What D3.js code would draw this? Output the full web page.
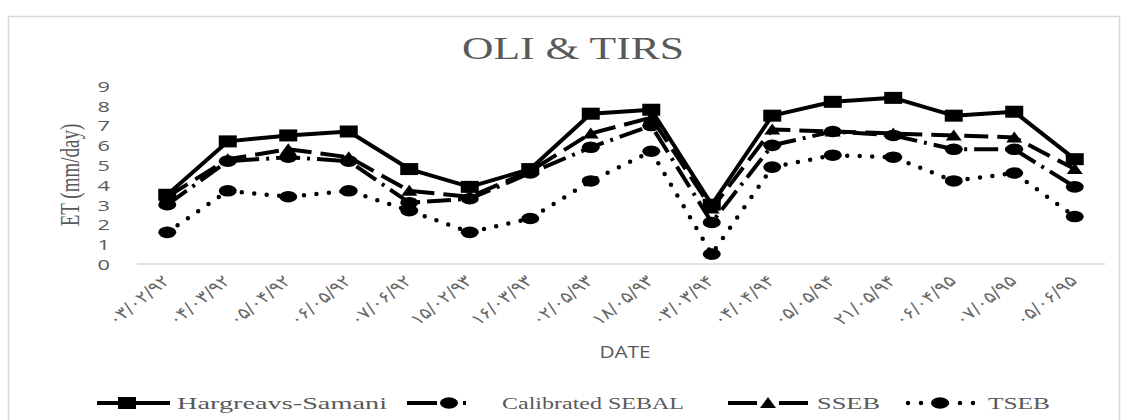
<!DOCTYPE html>
<html>
<head>
<meta charset="utf-8">
<script src="https://cdn.jsdelivr.net/npm/d3@7/dist/d3.min.js"></script>
<style>
  html, body { margin: 0; padding: 0; background: #fff; }
  svg { display: block; }
</style>
</head>
<body>
<svg id="chart" width="1128" height="420"></svg>
<script>
// Acquisition dates (Persian calendar) on the category axis
const categories = ["۰۳/۰۲/۹۲", "۰۴/۰۳/۹۲", "۰۵/۰۴/۹۲", "۰۶/۰۵/۹۲", "۰۷/۰۶/۹۲",
  "۱۵/۰۲/۹۳", "۱۶/۰۳/۹۳", "۰۲/۰۵/۹۳", "۱۸/۰۵/۹۳", "۰۳/۰۳/۹۴", "۰۴/۰۴/۹۴",
  "۰۵/۰۵/۹۴", "۲۱/۰۵/۹۴", "۰۶/۰۴/۹۵", "۰۷/۰۵/۹۵", "۰۵/۰۶/۹۵"];

// Daily ET (mm/day) for each method
const hargreaves = [3.5, 6.2, 6.5, 6.7, 4.8, 3.9, 4.8, 7.6, 7.8, 3.0, 7.5, 8.2, 8.4, 7.5, 7.7, 5.3];
const sebal      = [3.0, 5.2, 5.4, 5.2, 3.1, 3.3, 4.6, 5.9, 7.0, 2.1, 6.0, 6.7, 6.5, 5.8, 5.8, 3.9];
const sseb       = [3.4, 5.3, 5.8, 5.4, 3.7, 3.4, 4.7, 6.6, 7.4, 2.8, 6.8, 6.7, 6.6, 6.5, 6.4, 4.8];
const tseb       = [1.6, 3.7, 3.4, 3.7, 2.7, 1.6, 2.3, 4.2, 5.7, 0.5, 4.9, 5.5, 5.4, 4.2, 4.6, 2.4];

const seriesNames = ["Hargreavs-Samani", "Calibrated SEBAL", "SSEB", "TSEB"];
const yTicks = [0, 1, 2, 3, 4, 5, 6, 7, 8, 9];

const titleText = "OLI & TIRS";
const yTitle = "ET (mm/day)";
const xTitle = "DATE";

const svg = d3.select("#chart");
const grey = "#595959";
const serif = "'Liberation Serif', 'Times New Roman', serif";
const sans = "'Open Sans', 'Noto Sans', 'DejaVu Sans', sans-serif";
const sx = 1.45; // horizontal glyph widening used for the labels

// frame
svg.append("rect")
  .attr("x", 8.5).attr("y", 16.5)
  .attr("width", 1111).attr("height", 480)
  .attr("fill", "#fff").attr("stroke", "#d9d9d9").attr("stroke-width", 1.5);

const plot = { left: 137, right: 1105, top: 86, bottom: 264 };

const x = d3.scalePoint().domain(categories).range([plot.left, plot.right]).padding(0.5);
const y = d3.scaleLinear().domain([0, 9]).range([plot.bottom, plot.top]);

// title
svg.append("text")
  .attr("x", 462).attr("y", 59)
  .attr("font-family", serif).attr("font-size", 31).attr("fill", grey)
  .attr("textLength", 222).attr("lengthAdjust", "spacingAndGlyphs")
  .text(titleText);

// y axis (labels only)
const yAxis = d3.axisLeft(y).tickValues(yTicks).tickSize(0).tickPadding(0);
const gy = svg.append("g").attr("transform", "translate(110,0)").call(yAxis);
gy.select(".domain").remove();
gy.selectAll(".tick text")
  .attr("x", 0).attr("dy", "0.36em")
  .attr("font-family", sans).attr("font-size", 15).attr("fill", grey)
  .attr("transform", `scale(${sx},1)`);

// x axis line and rotated date labels
const xAxis = d3.axisBottom(x).tickSize(0).tickPadding(0);
const gx = svg.append("g").attr("transform", `translate(0,${plot.bottom})`).call(xAxis);
gx.select(".domain").attr("stroke", "#d9d9d9").attr("stroke-width", 1.5)
  .attr("d", `M${plot.left},0H${plot.right}`);
gx.selectAll(".tick text")
  .attr("x", 0).attr("y", 0).attr("dy", 0)
  .attr("text-anchor", "end")
  .attr("font-family", "'DejaVu Sans', sans-serif").attr("font-size", 16)
  .attr("letter-spacing", 0.8).attr("fill", "#666")
  .attr("transform", `translate(3,18) scale(1.25,1) rotate(-45)`);

// axis titles
svg.append("text")
  .attr("transform", `translate(79,175) scale(${sx},1) rotate(-90)`)
  .attr("text-anchor", "middle")
  .attr("font-family", serif).attr("font-size", 19).attr("fill", grey)
  .text(yTitle);

svg.append("text")
  .attr("transform", `translate(625,358) scale(1.3,1)`)
  .attr("text-anchor", "middle")
  .attr("font-family", sans).attr("font-size", 16).attr("fill", grey)
  .text(xTitle);

// marker shapes
function drawMarker(g, kind, cx, cy) {
  if (kind === "square") {
    g.append("rect").attr("x", cx - 9).attr("y", cy - 6).attr("width", 18).attr("height", 12).attr("fill", "#000");
  } else if (kind === "circle") {
    g.append("ellipse").attr("cx", cx).attr("cy", cy).attr("rx", 9).attr("ry", 5.8).attr("fill", "#000");
  } else if (kind === "triangle") {
    g.append("path").attr("d", `M${cx - 8},${cy + 5}L${cx},${cy - 6}L${cx + 8},${cy + 5}Z`).attr("fill", "#000");
  }
}

const series = [
  { name: seriesNames[0], values: hargreaves, dash: null,        cap: "butt",  width: 4,   marker: "square" },
  { name: seriesNames[1], values: sebal,      dash: "24 7 3 7",  cap: "butt",  width: 4,   marker: "circle" },
  { name: seriesNames[2], values: sseb,       dash: "24 9",      cap: "butt",  width: 4,   marker: "triangle" },
  { name: seriesNames[3], values: tseb,       dash: "0 12.5",    cap: "round", width: 4.5, marker: "circle" }
];

const line = d3.line().x((d, i) => x(categories[i])).y(d => y(d));

series.forEach(s => {
  const g = svg.append("g");
  g.append("path")
    .attr("d", line(s.values))
    .attr("fill", "none").attr("stroke", "#000")
    .attr("stroke-width", s.width)
    .attr("stroke-linecap", s.cap)
    .attr("stroke-linejoin", "round")
    .attr("stroke-dasharray", s.dash);
  s.values.forEach((v, i) => drawMarker(g, s.marker, x(categories[i]), y(v)));
});

// legend
const legendY = 403;
const legendItems = [
  { x0: 97,  x1: 170, mx: 127, tx: 177, dash: null,          cap: "butt",  width: 4 },
  { x0: 407, x1: 468, mx: 449, tx: 502, dash: "30 26 3 10",  cap: "butt",  width: 4 },
  { x0: 728, x1: 808, mx: 768, tx: 817, dash: "29 22 29",    cap: "butt",  width: 4 },
  { x0: 908, x1: 974, mx: 940, tx: 988, dash: "0 13",        cap: "round", width: 4.5 }
];
const legendWidths = [210, 182, 63, 62];
const leg = svg.append("g");
series.forEach((s, i) => {
  const it = legendItems[i];
  leg.append("line")
    .attr("x1", it.x0).attr("x2", it.x1).attr("y1", legendY).attr("y2", legendY)
    .attr("stroke", "#000").attr("stroke-width", it.width)
    .attr("stroke-linecap", it.cap).attr("stroke-dasharray", it.dash);
  drawMarker(leg, s.marker, it.mx, legendY);
  leg.append("text")
    .attr("x", it.tx).attr("y", legendY + 6)
    .attr("font-family", serif).attr("font-size", 17).attr("fill", grey)
    .attr("textLength", legendWidths[i]).attr("lengthAdjust", "spacingAndGlyphs")
    .text(s.name);
});
</script>
</body>
</html>
